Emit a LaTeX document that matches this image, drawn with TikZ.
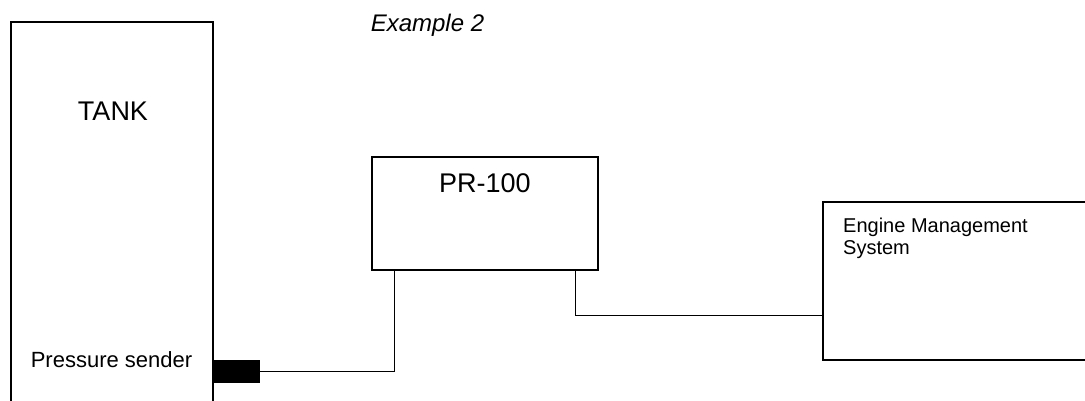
\documentclass[tikz,border=0pt]{standalone}
\usepackage{fontspec}
\setmainfont{Liberation Sans}
\usetikzlibrary{positioning}
\usetikzlibrary{calc}

\begin{document}
\begin{tikzpicture}[x=1pt, y=-1pt,
    box/.style={draw, line width=1.4pt, rectangle, inner sep=0pt},
    wire/.style={line width=1.1pt},
    lbl/.style={inner sep=0pt, anchor=base}]
    \clip (0,0) rectangle (1085,401);

    % tank, sender and the two units
    \node[box, minimum width=202pt, minimum height=420pt] (tank) at (112, 232) {};
    \node[fill=black, inner sep=0pt, minimum width=47pt, minimum height=23pt] (snd) at (236.5, 371.5) {};
    \node[box, minimum width=226pt, minimum height=113pt] (pr) at (485, 213.5) {};
    \node[box, minimum width=290pt, minimum height=158pt] (ems) at (968, 281) {};

    \node[lbl, font=\fontsize{24}{28}\selectfont\itshape] (title) at (427.5, 32) {Example 2};
    \node[lbl, font=\fontsize{27}{32}\selectfont] (tanklbl) at (113, 121) {TANK};
    \node[lbl, font=\fontsize{22}{26}\selectfont] (sndlbl) at (111.5, 367) {Pressure sender};
    \node[lbl, font=\fontsize{27}{32}\selectfont] (prlbl) at (485, 193) {PR-100};
    \node[inner sep=0pt, anchor=north west, align=left, font=\fontsize{20}{21.5}\selectfont] (emslbl) at (843, 218) {Engine Management\\System};

    % wiring
    \draw[wire] (snd.east) -| ([xshift=23pt]pr.south west);
    \draw[wire] ([xshift=-23pt]pr.south east) |- ([yshift=45pt]ems.south west);
\end{tikzpicture}
\end{document}
